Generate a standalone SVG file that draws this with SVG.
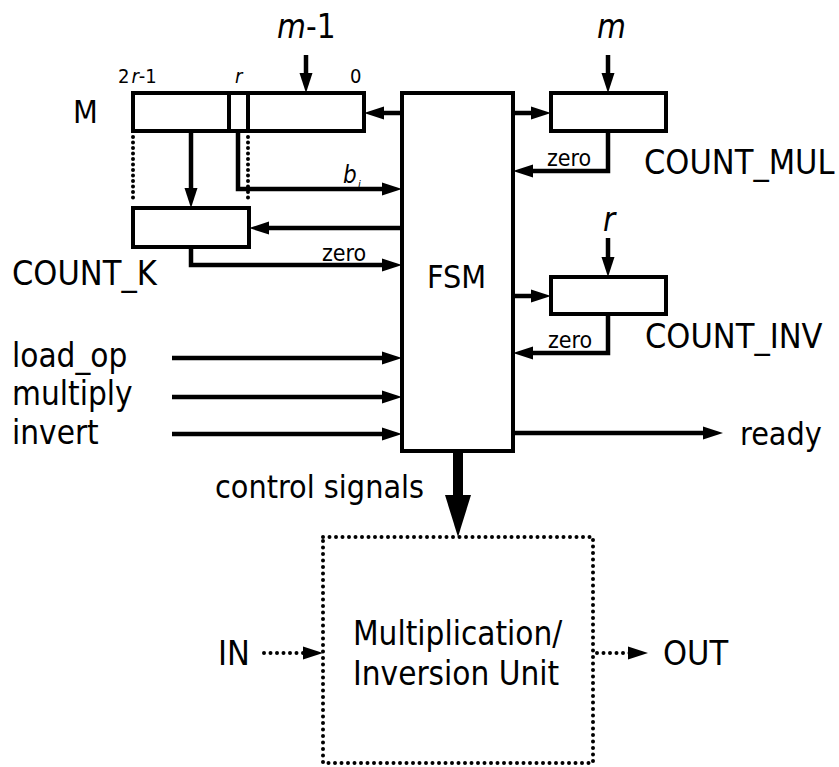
<svg xmlns="http://www.w3.org/2000/svg" width="839" height="767" viewBox="0 0 839 767">
<style>
  text{font-family:"DejaVu Sans Condensed","DejaVu Sans",sans-serif;font-stretch:condensed;fill:#000}
  .lg{font-size:33px}
  .sm{font-size:20px}
  .z{font-size:23px}
  .it{font-style:italic}
  .box{fill:#fff;stroke:#000;stroke-width:4}
  .w{fill:none;stroke:#000;stroke-width:4.5;marker-end:url(#ah)}
  .dot{fill:none;stroke:#000;stroke-width:4;stroke-linecap:round;stroke-dasharray:0 6.5}
  .dotv{fill:none;stroke:#000;stroke-width:4;stroke-linecap:round;stroke-dasharray:0 5.5}
</style>
<defs>
  <marker id="ah" markerUnits="userSpaceOnUse" markerWidth="22" markerHeight="14" refX="10" refY="6.5" orient="auto" overflow="visible">
    <path d="M0,0 L20,6.5 L0,13 Z" fill="#000"/>
  </marker>
</defs>
<rect width="839" height="767" fill="#fff"/>

<g id="connectors">
  <path class="w" d="M306,55 V83"/>
  <path class="w" d="M608,55 V83"/>
  <path class="w" d="M608,238 V267"/>
  <path class="w" d="M402,113 H374"/>
  <path class="w" d="M513,113 H541"/>
  <path class="w" d="M608,131 V171 H523"/>
  <path class="w" d="M191,131 V198"/>
  <path class="w" d="M238,131 V189 H392"/>
  <path class="w" d="M402,228 H259"/>
  <path class="w" d="M191,247 V265 H392"/>
  <path class="w" d="M513,296 H541"/>
  <path class="w" d="M608,314 V353 H523"/>
  <path class="w" d="M172,358 H392"/>
  <path class="w" d="M172,397 H392"/>
  <path class="w" d="M172,434 H392"/>
  <path class="w" d="M513,433 H713"/>
  <path d="M458,451 V497" stroke="#000" stroke-width="10" fill="none"/>
  <polygon points="445,495 471,495 458,537" fill="#000"/>
  <path class="dotv" d="M133,137 V203"/>
  <path class="dotv" d="M248,137 V203"/>
  <path class="dot" d="M264,653 H306"/>
  <polygon points="303,646.5 323,653 303,659.5" fill="#000"/>
  <path class="dot" d="M597,653 H630"/>
  <polygon points="628,646.5 648,653 628,659.5" fill="#000"/>
</g>

<g id="M">
  <rect class="box" x="133" y="93" width="231" height="38"/>
  <line x1="229" y1="93" x2="229" y2="131" stroke="#000" stroke-width="4"/>
  <line x1="248" y1="93" x2="248" y2="131" stroke="#000" stroke-width="4"/>
  <text class="lg" x="73" y="123" style="font-size:32px">M</text>
  <text class="sm" x="118" y="83">2<tspan class="it" dx="2">r</tspan>-1</text>
  <text class="sm it" x="235" y="83">r</text>
  <text class="sm" x="350" y="83">0</text>
  <text x="277" y="38" style="font-size:33px"><tspan class="it">m</tspan>-1</text>
  <text x="343" y="183" class="it" style="font-size:24px">b</text>
  <text x="358" y="188" class="it" style="font-size:11px">i</text>
</g>

<g id="COUNT_K">
  <rect class="box" x="133" y="208" width="116" height="39"/>
  <text class="lg" x="12" y="285" style="font-size:34px">COUNT_K</text>
  <text class="z" x="322" y="261">zero</text>
</g>

<g id="FSM">
  <rect class="box" x="402" y="93" width="111" height="358"/>
  <text class="lg" x="427" y="288" style="font-size:32px">FSM</text>
</g>

<g id="COUNT_MUL">
  <rect class="box" x="551" y="93" width="115" height="38"/>
  <text class="it" x="597" y="38" style="font-size:33px">m</text>
  <text class="z" x="547" y="166">zero</text>
  <text class="lg" x="644" y="174" style="font-size:34px">COUNT_MUL</text>
</g>

<g id="COUNT_INV">
  <rect class="box" x="551" y="277" width="115" height="37"/>
  <text class="it" x="603" y="231" style="font-size:33px">r</text>
  <text class="z" x="548" y="348">zero</text>
  <text class="lg" x="645" y="348" style="font-size:34px">COUNT_INV</text>
</g>

<g id="inputs">
  <text class="lg" x="12" y="367">load_op</text>
  <text class="lg" x="12" y="405">multiply</text>
  <text class="lg" x="12" y="444">invert</text>
</g>

<g id="ready">
  <text class="lg" x="740" y="445" style="font-size:32px">ready</text>
</g>

<g id="control">
  <text class="lg" x="215" y="498" style="font-size:32px">control signals</text>
</g>

<g id="unit">
  <rect x="323" y="537" width="270" height="226" fill="none" stroke="#000" stroke-width="4" stroke-linecap="round" stroke-dasharray="0 6.5"/>
  <text class="lg" x="353" y="645">Multiplication/</text>
  <text class="lg" x="353" y="685">Inversion Unit</text>
</g>

<g id="IN">
  <text class="lg" x="218" y="665" style="font-size:34px">IN</text>
</g>
<g id="OUT">
  <text class="lg" x="663" y="665" style="font-size:34px">OUT</text>
</g>
</svg>
